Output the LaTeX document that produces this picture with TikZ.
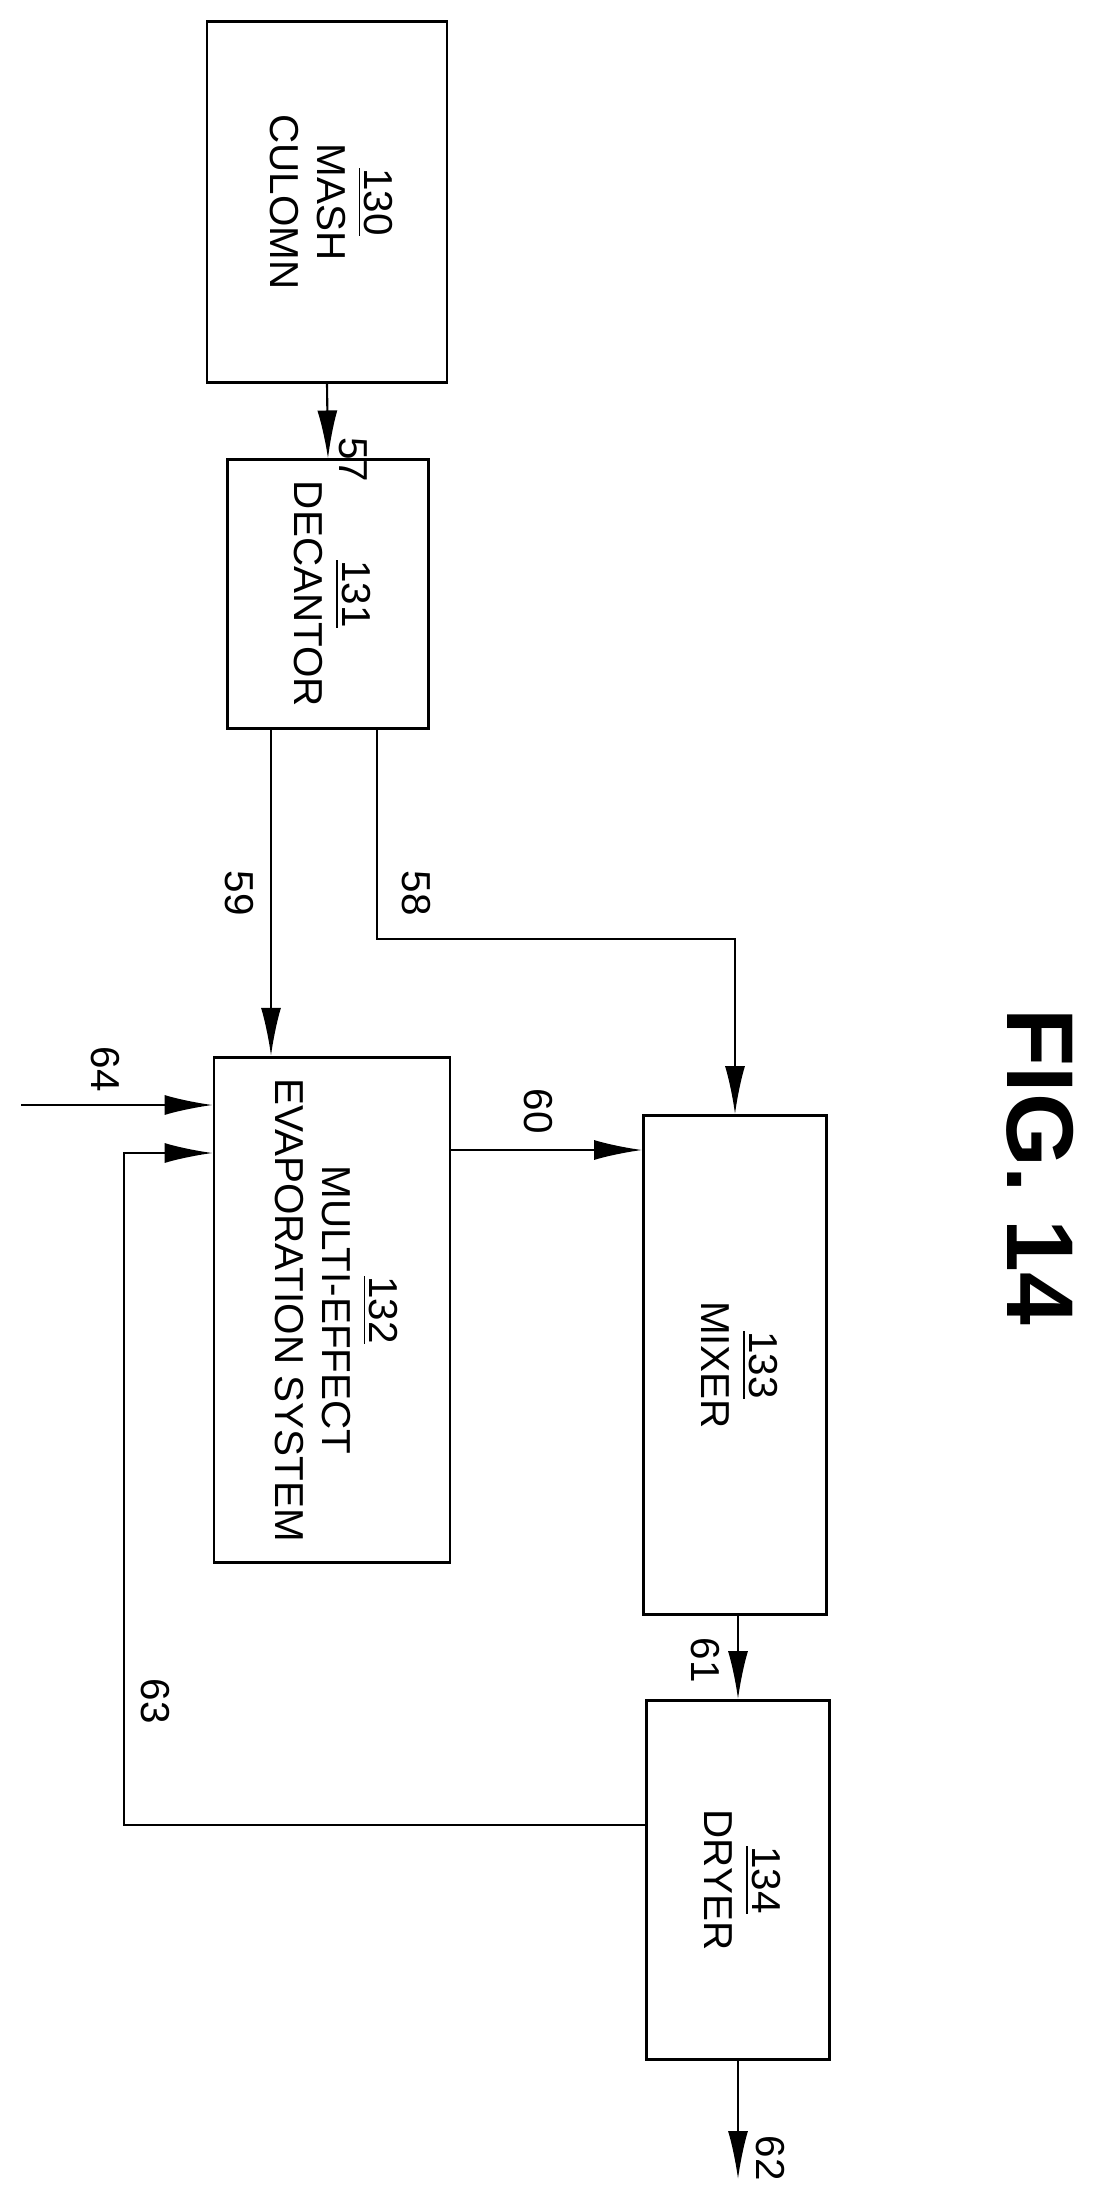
\documentclass[tikz,border=0pt]{standalone}
\usepackage{fontspec}
\setmainfont{Liberation Sans}
\usetikzlibrary{arrows.meta}
\tikzset{
  unit/.style={shape=rectangle,draw=black,line width=0.8pt,inner sep=0pt},
  flow/.style={-{Latex[length=4.8mm,width=2mm]},line width=0.6pt},
  tag/.style={rotate=-90,font=\fontsize{11.5}{13}\selectfont}
}
\newcommand{\unittext}[2]{\rotatebox{-90}{\fontsize{11.5}{13.5}\selectfont\begin{tabular}{c}\underline{#1}\\#2\end{tabular}}}
\begin{document}
\begin{tikzpicture}[x=0.1mm,y=0.1mm]
    \useasboundingbox (0,0) rectangle (1097,-2201);
    \node[unit,minimum width=24mm,minimum height=36.1mm] (Mash Column) at (327,-202) {\unittext{130}{MASH\\CULOMN}};
    \node[unit,minimum width=20.1mm,minimum height=26mm] (Decantor) at (328,-594) {\unittext{131}{DECANTOR}};
    \node[unit,minimum width=23.6mm,minimum height=50.2mm] (Evaporation) at (332,-1310) {\unittext{132}{MULTI-EFFECT\\EVAPORATION SYSTEM}};
    \node[unit,minimum width=18.3mm,minimum height=49.9mm] (Mixer) at (735,-1365) {\unittext{133}{MIXER}};
    \node[unit,minimum width=18.3mm,minimum height=35.9mm] (Dryer) at (738,-1880) {\unittext{134}{DRYER}};
    \coordinate (Feed) at (21,-1105);
    \coordinate (Product) at (738,-2179);

    \draw[flow] (Mash Column.south) -- (Decantor.north);
    \draw[flow] (Decantor.south -| 271,0) -- (Evaporation.north -| 271,0);
    \draw[flow] (Decantor.south -| 377,0) |- (0,-939 -| Mixer.north) -- (Mixer.north);
    \draw[flow] (Evaporation.east |- 0,-1150) -- (Mixer.west |- 0,-1150);
    \draw[flow] (Feed) -- (Evaporation.west |- Feed);
    \draw[flow] (Dryer.west |- 0,-1825) -| (124,-1153) -- (Evaporation.west |- 0,-1153);
    \draw[flow] (Mixer.south -| Dryer.north) -- (Dryer.north);
    \draw[flow] (Dryer.south) -- (Product);

    \node[tag] (l57) at (353,-460) {57};
    \node[tag] (l59) at (239,-893) {59};
    \node[tag] (l58) at (416,-893) {58};
    \node[tag] (l60) at (538,-1111) {60};
    \node[tag] (l64) at (105,-1069) {64};
    \node[tag] (l63) at (155,-1701) {63};
    \node[tag] (l61) at (705,-1660) {61};
    \node[tag] (l62) at (770,-2158) {62};
    \node[rotate=-90,font=\fontsize{27}{30}\selectfont\bfseries] (Figure) at (1040,-1167) {FIG. 14};
\end{tikzpicture}
\end{document}
